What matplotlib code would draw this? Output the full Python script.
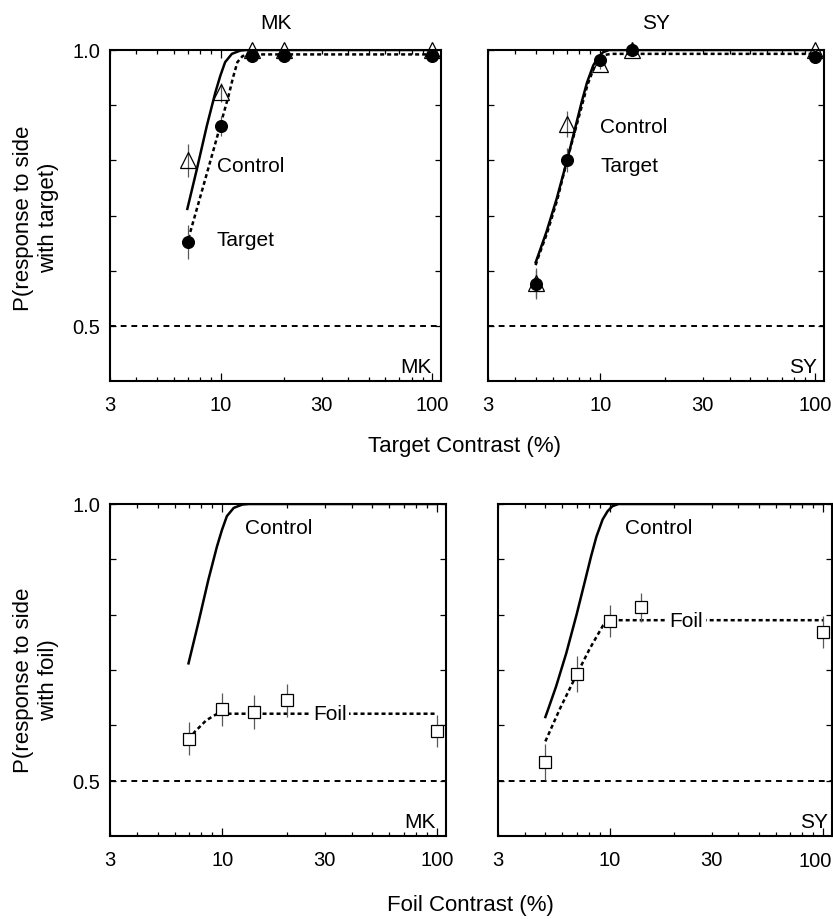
import matplotlib.pyplot as plt
from matplotlib.ticker import FixedLocator, FuncFormatter

plt.rcParams['font.family'] = ['Liberation Sans', 'DejaVu Sans']
plt.rcParams['font.size'] = 15

# ---- data ----
mk_x = [7, 10, 14, 20, 100]
sy_x = [5, 7, 10, 14, 100]

mk_control = [0.800, 0.923, 1.000, 1.000, 1.000]
mk_control_err = [0.030, 0.018, 0.004, 0.004, 0.004]
mk_target = [0.652, 0.863, 0.990, 0.990, 0.990]
mk_target_err = [0.030, 0.018, 0.005, 0.005, 0.005]

sy_control = [0.578, 0.866, 0.975, 1.000, 1.000]
sy_control_err = [0.026, 0.023, 0.010, 0.004, 0.004]
sy_target = [0.575, 0.800, 0.982, 1.000, 0.987]
sy_target_err = [0.026, 0.022, 0.010, 0.004, 0.005]

mk_foil = [0.576, 0.629, 0.624, 0.645, 0.590]
mk_foil_err = [0.030, 0.030, 0.030, 0.030, 0.029]
sy_foil = [0.534, 0.693, 0.789, 0.813, 0.768]
sy_foil_err = [0.032, 0.032, 0.029, 0.026, 0.029]

# fitted curves (traced)
mk_control_fit_x = [6.96, 7.72, 8.61, 9.44, 9.96, 10.5, 11.3, 12.4, 13.3, 100]
mk_control_fit_y = [0.712, 0.784, 0.863, 0.923, 0.953, 0.978, 0.993, 0.999, 1.0, 1.0]
mk_target_fit_x = [7.04, 7.72, 8.46, 9.27, 9.96, 10.9, 11.44, 12.0, 12.7, 13.5, 100]
mk_target_fit_y = [0.658, 0.712, 0.766, 0.820, 0.863, 0.917, 0.950, 0.978, 0.989, 0.992, 0.992]

sy_control_fit_x = [5.0, 5.13, 5.61, 6.26, 7.0, 7.62, 8.18, 8.67, 9.27, 9.78, 10.3, 11.0, 100]
sy_control_fit_y = [0.615, 0.627, 0.670, 0.730, 0.800, 0.857, 0.905, 0.941, 0.972, 0.987, 0.996, 1.0, 1.0]
sy_target_fit_x = [5.0, 5.15, 5.65, 6.3, 7.0, 7.65, 8.22, 8.72, 9.35, 9.9, 10.5, 11.2, 100]
sy_target_fit_y = [0.610, 0.625, 0.668, 0.728, 0.800, 0.855, 0.900, 0.937, 0.968, 0.984, 0.991, 0.993, 0.993]

mk_foil_fit_x = [7.0, 7.43, 8.41, 9.38, 10.5, 100]
mk_foil_fit_y = [0.574, 0.588, 0.609, 0.620, 0.621, 0.621]
sy_foil_fit_x = [5.0, 5.85, 6.99, 8.08, 9.33, 10.03, 100]
sy_foil_fit_y = [0.571, 0.630, 0.691, 0.739, 0.781, 0.790, 0.790]

x_major = [10, 100]
x_minor = [3, 4, 5, 6, 7, 8, 9, 20, 30, 40, 50, 60, 70, 80, 90]
x_labels = {3: '3', 10: '10', 30: '30', 100: '100'}
y_ticks = [0.5, 0.6, 0.7, 0.8, 0.9, 1.0]
y_labels = ['0.5', '', '', '', '', '1.0']

TICK_FS = 14.5
LABEL_FS = 16


def make_fmt(skip=()):
    def fmt(v, pos):
        k = int(round(v))
        if k in skip:
            return ''
        return x_labels.get(k, '')
    return FuncFormatter(fmt)


def style_axes(ax, ylabels=True, skip=()):
    ax.set_xscale('log')
    ax.set_xlim(3, 110)
    ax.set_ylim(0.4, 1.0)
    ax.xaxis.set_major_locator(FixedLocator(x_major))
    ax.xaxis.set_minor_locator(FixedLocator(x_minor))
    ax.xaxis.set_major_formatter(make_fmt(skip))
    ax.xaxis.set_minor_formatter(make_fmt(skip))
    ax.set_yticks(y_ticks)
    ax.set_yticklabels(y_labels if ylabels else [''] * len(y_ticks))
    ax.tick_params(which='both', direction='in', top=True, right=True, width=0.9,
                   labelsize=TICK_FS)
    ax.tick_params(axis='x', which='major', length=6, pad=10)
    ax.tick_params(axis='x', which='minor', length=3, pad=10)
    ax.tick_params(axis='y', length=4, pad=7)
    for s in ax.spines.values():
        s.set_linewidth(1.5)
    ax.axhline(0.5, color='black', lw=1.4, ls=(0, (3, 2.5)), zorder=1)


def draw_points(ax, x, y, err, marker, face, ms):
    ax.errorbar(x, y, yerr=err, fmt='none', ecolor='0.35', elinewidth=0.9, capsize=0, zorder=3)
    ax.plot(x, y, linestyle='none', marker=marker, ms=ms, mfc=face, mec='black',
            mew=0.9, zorder=4, clip_on=False)


fig = plt.figure(figsize=(8.33, 9.2), dpi=100)
W, H = 833, 920
ax_tl = fig.add_axes([110 / W, 1 - 382 / H, 331 / W, 331 / H])
ax_tr = fig.add_axes([488 / W, 1 - 382 / H, 336 / W, 331 / H])
ax_bl = fig.add_axes([110 / W, 1 - 837 / H, 336 / W, 332 / H])
ax_br = fig.add_axes([498 / W, 1 - 837 / H, 334 / W, 332 / H])

dotted = (0, (1.6, 1.2))

# top-left MK
ax = ax_tl
style_axes(ax)
ax.plot(mk_control_fit_x, mk_control_fit_y, color='black', lw=1.8, zorder=2)
ax.plot(mk_target_fit_x, mk_target_fit_y, color='black', lw=1.8, ls=dotted, zorder=2)
draw_points(ax, mk_x, mk_control, mk_control_err, '^', 'none', 12)
draw_points(ax, mk_x, mk_target, mk_target_err, 'o', 'black', 8.5)
ax.text(9.6, 0.79, 'Control', va='center', ha='left')
ax.text(9.6, 0.656, 'Target', va='center', ha='left')
ax.text(0.973, 0.045, 'MK', transform=ax.transAxes, ha='right', va='center')
ax.set_title('MK', pad=16, fontsize=15)

# top-right SY
ax = ax_tr
style_axes(ax, ylabels=False)
ax.plot(sy_control_fit_x, sy_control_fit_y, color='black', lw=1.8, zorder=2)
ax.plot(sy_target_fit_x, sy_target_fit_y, color='black', lw=1.8, ls=dotted, zorder=2)
draw_points(ax, sy_x, sy_control, sy_control_err, '^', 'none', 12)
draw_points(ax, sy_x, sy_target, sy_target_err, 'o', 'black', 8.5)
ax.text(10, 0.862, 'Control', va='center', ha='left')
ax.text(10, 0.79, 'Target', va='center', ha='left')
ax.text(0.979, 0.045, 'SY', transform=ax.transAxes, ha='right', va='center')
ax.set_title('SY', pad=16, fontsize=15)

# bottom-left MK foil
ax = ax_bl
style_axes(ax)
ax.plot(mk_control_fit_x, mk_control_fit_y, color='black', lw=1.8, zorder=2)
ax.plot(mk_foil_fit_x, mk_foil_fit_y, color='black', lw=1.8, ls=dotted, zorder=2)
draw_points(ax, mk_x, mk_foil, mk_foil_err, 's', 'white', 8.5)
ax.text(12.7, 0.958, 'Control', va='center', ha='left')
ax.text(31.7, 0.621, 'Foil', va='center', ha='center', zorder=5,
        bbox=dict(facecolor='white', edgecolor='none', pad=2))
ax.text(0.97, 0.045, 'MK', transform=ax.transAxes, ha='right', va='center')

# bottom-right SY foil (the 100 label sits at the figure edge)
ax = ax_br
style_axes(ax, ylabels=False, skip=(100,))
ax.plot(sy_control_fit_x, sy_control_fit_y, color='black', lw=1.8, zorder=2)
ax.plot(sy_foil_fit_x, sy_foil_fit_y, color='black', lw=1.8, ls=dotted, zorder=2)
draw_points(ax, sy_x, sy_foil, sy_foil_err, 's', 'white', 8.5)
ax.text(11.8, 0.958, 'Control', va='center', ha='left')
ax.text(22.8, 0.79, 'Foil', va='center', ha='center', zorder=5,
        bbox=dict(facecolor='white', edgecolor='none', pad=2))
ax.text(0.988, 0.045, 'SY', transform=ax.transAxes, ha='right', va='center')
fig.text(832 / W, 1 - 862 / H, '100', ha='right', va='center', fontsize=TICK_FS)

fig.text(36 / W, 1 - 218 / H, 'P(response to side\nwith target)', rotation=90,
         ha='center', va='center', multialignment='center', fontsize=LABEL_FS)
fig.text(36 / W, 1 - 680 / H, 'P(response to side\nwith foil)', rotation=90,
         ha='center', va='center', multialignment='center', fontsize=LABEL_FS)
fig.text(464 / W, 1 - 447 / H, 'Target Contrast (%)', ha='center', va='center',
         fontsize=LABEL_FS)
fig.text(470 / W, 1 - 906 / H, 'Foil Contrast (%)', ha='center', va='center',
         fontsize=LABEL_FS)

fig.savefig('out.png', dpi=100)
